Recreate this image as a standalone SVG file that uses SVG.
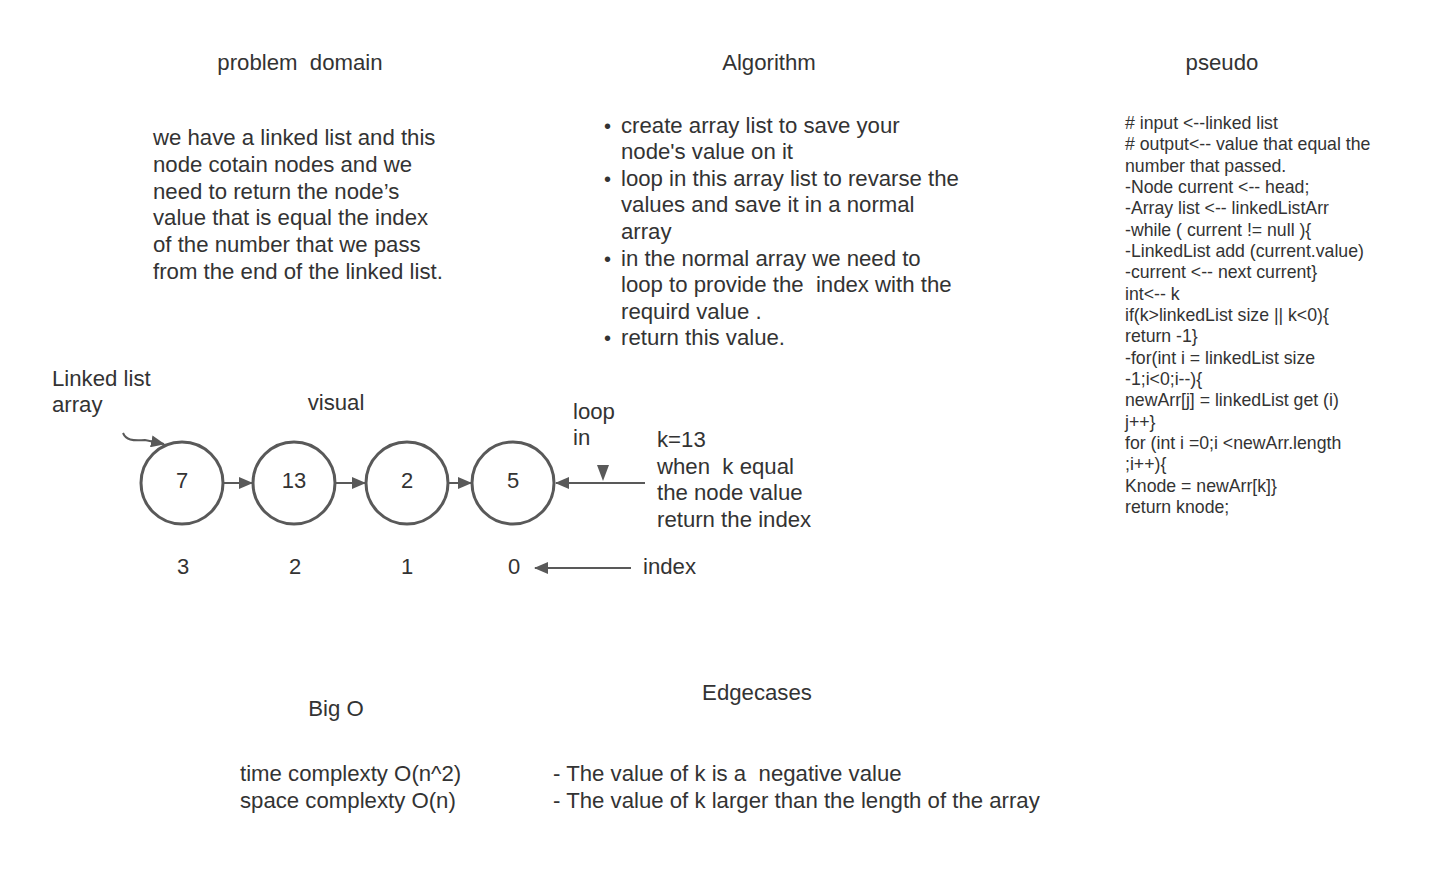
<svg xmlns="http://www.w3.org/2000/svg" width="1434" height="869" viewBox="0 0 1434 869">
<style>
text{font-family:"Liberation Sans",Arial,sans-serif;fill:#333333}
.h{font-size:22.2px;text-anchor:middle}
.b{font-size:22.2px}
.d{font-size:20px}
.p{font-size:17.7px}
.n{font-size:22px;text-anchor:middle}
.c{fill:#ffffff;stroke:#595959;stroke-width:3}
.l{stroke:#595959;stroke-width:2;fill:none}
</style>
<defs>
<marker id="ah" viewBox="0 0 14 12" refX="13" refY="6" markerWidth="14" markerHeight="12" markerUnits="userSpaceOnUse" orient="auto">
<path d="M0,0 L14,6 L0,12 Z" fill="#595959"/>
</marker>
</defs>
<rect width="1434" height="869" fill="#ffffff"/>
<g id="headers">
<text class="h" x="300" y="70" xml:space="preserve">problem  domain</text>
<text class="h" x="769" y="70">Algorithm</text>
<text class="h" x="1222" y="70">pseudo</text>
</g>
<g id="problem-domain">
<text class="b" x="153" y="145">we have a linked list and this</text>
<text class="b" x="153" y="172">node cotain nodes and we</text>
<text class="b" x="153" y="199">need to return the node’s</text>
<text class="b" x="153" y="225">value that is equal the index</text>
<text class="b" x="153" y="252">of the number that we pass</text>
<text class="b" x="153" y="279">from the end of the linked list.</text>
</g>
<g id="algorithm">
<text class="d" x="604" y="133">•</text><text class="b" x="621" y="133">create array list to save your</text>
<text class="b" x="621" y="159">node's value on it</text>
<text class="d" x="604" y="186">•</text><text class="b" x="621" y="186">loop in this array list to revarse the</text>
<text class="b" x="621" y="212">values and save it in a normal</text>
<text class="b" x="621" y="239">array</text>
<text class="d" x="604" y="266">•</text><text class="b" x="621" y="266">in the normal array we need to</text>
<text class="b" x="621" y="292" xml:space="preserve">loop to provide the  index with the</text>
<text class="b" x="621" y="319">requird value .</text>
<text class="d" x="604" y="345">•</text><text class="b" x="621" y="345">return this value.</text>
</g>
<g id="pseudo">
<text class="p" x="1125" y="129"># input &lt;--linked list</text>
<text class="p" x="1125" y="150"># output&lt;-- value that equal the</text>
<text class="p" x="1125" y="172">number that passed.</text>
<text class="p" x="1125" y="193">-Node current &lt;-- head;</text>
<text class="p" x="1125" y="214">-Array list &lt;-- linkedListArr</text>
<text class="p" x="1125" y="236">-while ( current != null ){</text>
<text class="p" x="1125" y="257">-LinkedList add (current.value)</text>
<text class="p" x="1125" y="278">-current &lt;-- next current}</text>
<text class="p" x="1125" y="300">int&lt;-- k</text>
<text class="p" x="1125" y="321">if(k&gt;linkedList size || k&lt;0){</text>
<text class="p" x="1125" y="342">return -1}</text>
<text class="p" x="1125" y="364">-for(int i = linkedList size</text>
<text class="p" x="1125" y="385">-1;i&lt;0;i--){</text>
<text class="p" x="1125" y="406">newArr[j] = linkedList get (i)</text>
<text class="p" x="1125" y="428">j++}</text>
<text class="p" x="1125" y="449">for (int i =0;i &lt;newArr.length</text>
<text class="p" x="1125" y="470">;i++){</text>
<text class="p" x="1125" y="492">Knode = newArr[k]}</text>
<text class="p" x="1125" y="513">return knode;</text>
</g>
<g id="labels">
<text class="b" x="52" y="386">Linked list</text>
<text class="b" x="52" y="412">array</text>
<text class="h" x="336" y="410">visual</text>
<text class="b" x="573" y="419">loop</text>
<text class="b" x="573" y="445">in</text>
<text class="b" x="657" y="447">k=13</text>
<text class="b" x="657" y="474" xml:space="preserve">when  k equal</text>
<text class="b" x="657" y="500">the node value</text>
<text class="b" x="657" y="527">return the index</text>
<text class="b" x="643" y="574">index</text>
</g>
<g id="node-7"><circle class="c" cx="182" cy="483" r="41"/><text class="n" x="182" y="488">7</text></g>
<g id="node-13"><circle class="c" cx="294" cy="483" r="41"/><text class="n" x="294" y="488">13</text></g>
<g id="node-2"><circle class="c" cx="407" cy="483" r="41"/><text class="n" x="407" y="488">2</text></g>
<g id="node-5"><circle class="c" cx="513" cy="483" r="41"/><text class="n" x="513" y="488">5</text></g>
<g id="indices">
<text class="n" x="183" y="574">3</text>
<text class="n" x="295" y="574">2</text>
<text class="n" x="407" y="574">1</text>
<text class="n" x="514" y="574">0</text>
</g>
<g id="connectors">
<path class="l" d="M123,433 C126,440 132,441 145,440 L164,444" marker-end="url(#ah)"/>
<line class="l" x1="224" y1="483" x2="252" y2="483" marker-end="url(#ah)"/>
<line class="l" x1="336" y1="483" x2="365" y2="483" marker-end="url(#ah)"/>
<line class="l" x1="449" y1="483" x2="471" y2="483" marker-end="url(#ah)"/>
<line class="l" x1="645" y1="483" x2="556" y2="483" marker-end="url(#ah)"/>
<path d="M597,465 L609,465 L603,481 Z" fill="#595959"/>
<line class="l" x1="631" y1="568" x2="535" y2="568" marker-end="url(#ah)"/>
</g>
<g id="big-o">
<text class="h" x="336" y="716">Big O</text>
<text class="b" x="240" y="781">time complexty O(n^2)</text>
<text class="b" x="240" y="808">space complexty O(n)</text>
</g>
<g id="edgecases">
<text class="h" x="757" y="700">Edgecases</text>
<text class="b" x="553" y="781" xml:space="preserve">- The value of k is a  negative value</text>
<text class="b" x="553" y="808">- The value of k larger than the length of the array</text>
</g>
</svg>
